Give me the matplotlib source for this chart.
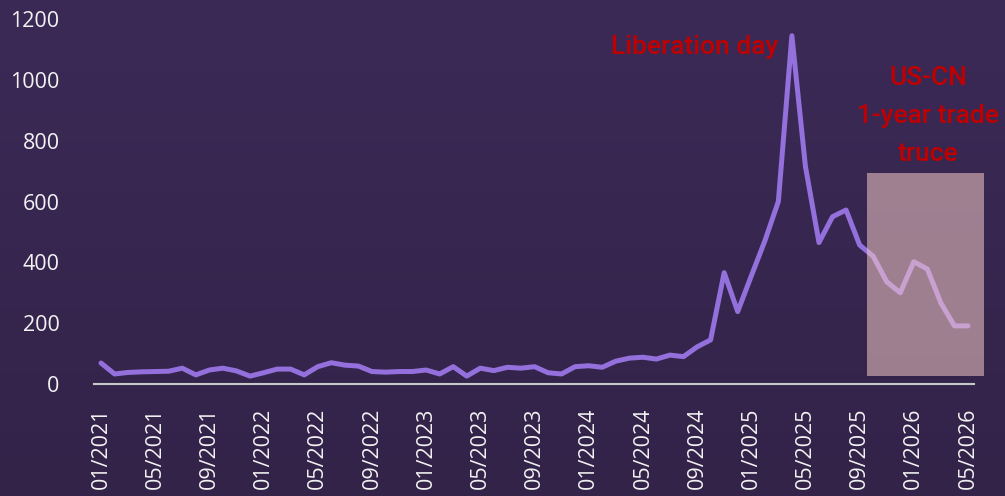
import numpy as np
import pandas as pd
import matplotlib
matplotlib.use('Agg')
import matplotlib.pyplot as plt
from matplotlib.patches import Rectangle

# ---- data ----
months = pd.date_range('2021-01-01', periods=65, freq='MS')
values = [69, 33, 38, 40, 41, 42, 52, 30, 46, 52, 43, 26, 37, 49, 49, 30,
          57, 70, 62, 59, 41, 39, 41, 41, 46, 33, 57, 26, 52, 44, 55, 52,
          57, 37, 33, 57, 60, 55, 75, 85, 88, 82, 95, 90, 122, 145, 366, 238,
          355, 470, 600, 1145, 715, 465, 550, 572, 457, 420, 336, 300, 402, 378,
          266, 191, 191]
tick_step = 4
tick_labels = [d.strftime('%m/%Y') for d in months[::tick_step]]
y_ticks = [0, 200, 400, 600, 800, 1000, 1200]
annot_event = 'Liberation day'
annot_truce = 'US-CN\n1-year trade\ntruce'

# ---- figure ----
W, H = 1005, 496
fig = plt.figure(figsize=(W / 100, H / 100), dpi=100)

bg = fig.add_axes([0, 0, 1, 1], zorder=-10)
g = np.linspace(0, 1, 256)[:, None, None]
top = np.array([59, 42, 86]) / 255
bot = np.array([51, 35, 73]) / 255
img = top * (1 - g) + bot * g
bg.imshow(img, aspect='auto', extent=[0, 1, 0, 1])
bg.axis('off')

px = 13.547  # pixels per month
ax = fig.add_axes([93 / W, (H - 384) / H, (984 - 93) / W, 365 / H])
ax.set_facecolor('none')

x = np.arange(len(values))
ax.plot(x, values, color='#9370db', lw=3.6, solid_capstyle='round',
        solid_joinstyle='round', zorder=2)

ax.add_patch(Rectangle((56.55, 26), 65.18 - 56.55, 694 - 26,
                       facecolor='#f4cac7', alpha=0.55, edgecolor='none', zorder=3))

ax.set_xlim(-8 / px, 64 + 16 / px)
ax.set_ylim(0, 1200)

for s in ['top', 'right', 'left']:
    ax.spines[s].set_visible(False)
ax.spines['bottom'].set_color('#c8c8c8')
ax.spines['bottom'].set_linewidth(1.5)
ax.spines['bottom'].set_bounds(-0.55, 64.45)

ax.set_xticks(x[::tick_step])
ax.set_xticklabels(tick_labels, rotation=90, fontsize=15.5, color='#f2f2f2',
                   family='Open Sans')
ax.set_yticks(y_ticks)
ax.set_yticklabels([str(v) for v in y_ticks], fontsize=15.5, color='#f2f2f2',
                   family='Open Sans')
ax.tick_params(axis='x', length=0, pad=17)
ax.tick_params(axis='y', length=0, pad=24)

ax.text(43.85, 1108, annot_event, color='#c00000', fontsize=19,
        family='Roboto', fontweight='medium', ha='center', va='center')
ax.text(61.05, 881, annot_truce, color='#c00000', fontsize=19,
        family='Roboto', fontweight='medium', ha='center', va='center',
        linespacing=1.75, clip_on=False)

fig.savefig('out.png', dpi=100)
